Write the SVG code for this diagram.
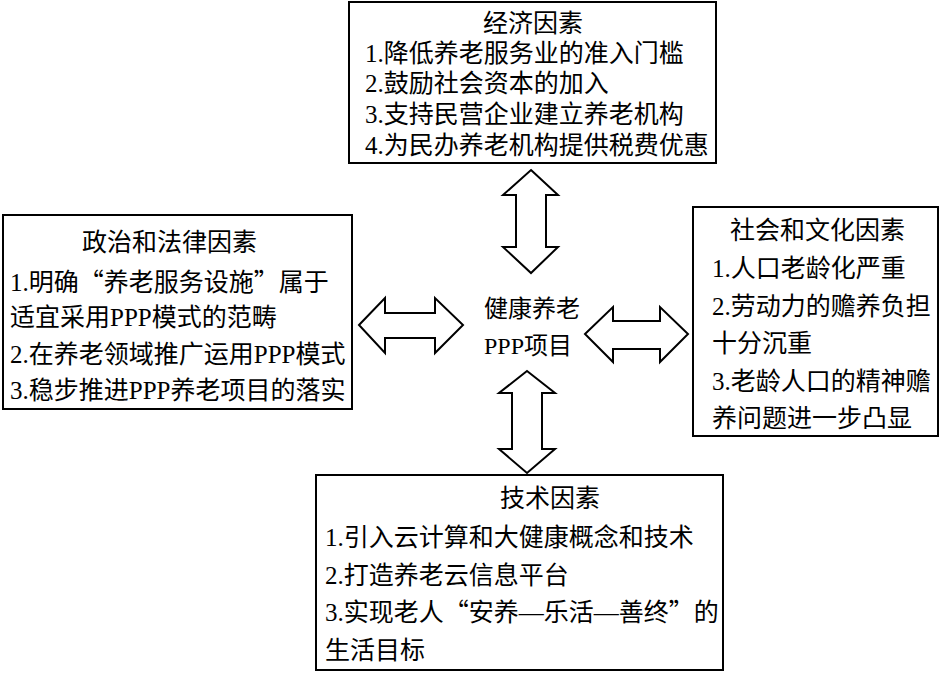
<svg xmlns="http://www.w3.org/2000/svg" width="941" height="673" viewBox="0 0 941 673">
<style>
.box{fill:#fff;stroke:#000;stroke-width:2}
.arr{fill:#fff;stroke:#000;stroke-width:2;stroke-linejoin:miter}
text{font-family:"Liberation Serif","Noto Sans CJK SC",serif;font-size:25px;fill:#000}
.c{font-size:24px}
.q{font-family:"Noto Sans CJK SC",sans-serif}
</style>
<rect width="941" height="673" fill="#fff"/>
<g id="node-econ">
<rect class="box" x="349" y="2" width="367" height="161"/>
<text x="483" y="32">经济因素</text>
<text x="365" y="62">1.降低养老服务业的准入门槛</text>
<text x="365" y="92">2.鼓励社会资本的加入</text>
<text x="365" y="123">3.支持民营企业建立养老机构</text>
<text x="365" y="154">4.为民办养老机构提供税费优惠</text>
</g>
<g id="node-politics">
<rect class="box" x="3" y="215" width="349" height="194"/>
<text x="82" y="251">政治和法律因素</text>
<text x="10" y="291">1.明确<tspan class="q">“</tspan>养老服务设施<tspan class="q">”</tspan>属于</text>
<text x="10" y="326">适宜采用PPP模式的范畴</text>
<text x="10" y="363">2.在养老领域推广运用PPP模式</text>
<text x="10" y="399">3.稳步推进PPP养老项目的落实</text>
</g>
<g id="node-social">
<rect class="box" x="693" y="207" width="245" height="229"/>
<text x="730" y="239">社会和文化因素</text>
<text x="712" y="277">1.人口老龄化严重</text>
<text x="712" y="315">2.劳动力的赡养负担</text>
<text x="712" y="352">十分沉重</text>
<text x="712" y="390">3.老龄人口的精神赡</text>
<text x="712" y="427">养问题进一步凸显</text>
</g>
<g id="node-tech">
<rect class="box" x="316" y="475" width="407" height="195"/>
<text x="500" y="507">技术因素</text>
<text x="325" y="546">1.引入云计算和大健康概念和技术</text>
<text x="325" y="584">2.打造养老云信息平台</text>
<text x="325" y="621">3.实现老人<tspan class="q">“</tspan>安养—乐活—善终<tspan class="q">”</tspan>的</text>
<text x="325" y="659">生活目标</text>
</g>
<g id="node-center">
<text class="c" x="484" y="317">健康养老</text>
<text class="c" x="484" y="354">PPP项目</text>
</g>
<g id="connectors">
<polygon class="arr" points="531,170 558,195 546,195 546,247 558,247 531,273 503,247 516,247 516,195 503,195"/>
<polygon class="arr" points="527,371 555,393 542,393 542,449 555,449 527,473 499,449 512,449 512,393 499,393"/>
<polygon class="arr" points="359,325 385,298 385,313 435,313 435,298 463,325 435,353 435,338 385,338 385,353"/>
<polygon class="arr" points="585,334 613,307 613,321 660,321 660,307 688,334 660,362 660,349 613,349 613,362"/>
</g>
</svg>
